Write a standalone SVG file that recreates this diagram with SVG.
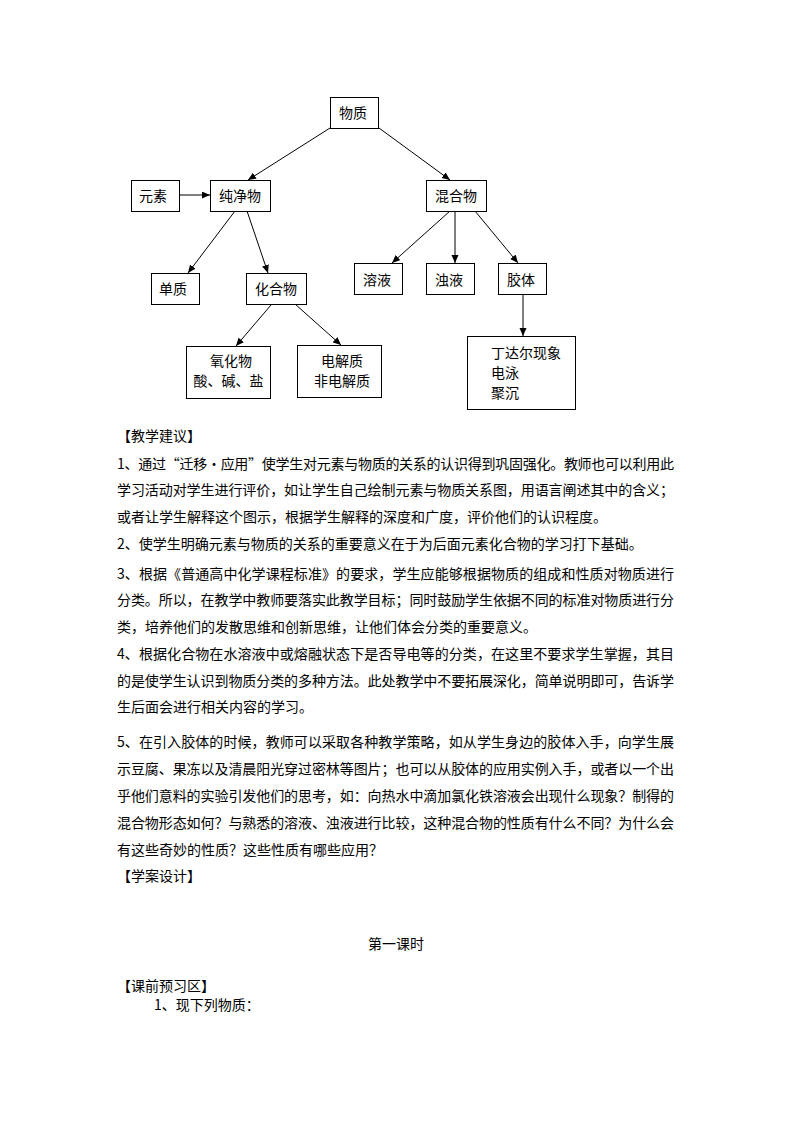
<svg xmlns="http://www.w3.org/2000/svg" width="794" height="1123" viewBox="0 0 794 1123">
<defs>
<style>
.box{fill:#fff;stroke:#000;stroke-width:1}
.nt{font-family:"Noto Sans CJK SC","Noto Sans",sans-serif;font-size:14px;fill:#000}
.bt{font-family:"Noto Sans CJK SC","Noto Sans",sans-serif;font-size:14px;fill:#000}
.ln{stroke:#000;stroke-width:1;fill:none;marker-end:url(#ah)}
</style>
<marker id="ah" markerUnits="userSpaceOnUse" markerWidth="9" markerHeight="8" refX="8" refY="3.5" orient="auto">
<path d="M0,0 L8,3.5 L0,7 z" fill="#000"/>
</marker>
</defs>
<rect width="794" height="1123" fill="#fff"/>

<g id="connectors">
<line class="ln" x1="330" y1="128" x2="248" y2="180"/>
<line class="ln" x1="379" y1="128" x2="450" y2="180"/>
<line class="ln" x1="179" y1="195" x2="210" y2="195"/>
<line class="ln" x1="235" y1="211" x2="188" y2="273"/>
<line class="ln" x1="247" y1="211" x2="268" y2="273"/>
<line class="ln" x1="450" y1="211" x2="392" y2="263"/>
<line class="ln" x1="455" y1="211" x2="455" y2="263"/>
<line class="ln" x1="475" y1="211" x2="518" y2="263"/>
<line class="ln" x1="271" y1="305" x2="236" y2="346"/>
<line class="ln" x1="295" y1="304" x2="341" y2="345"/>
<line class="ln" x1="523" y1="294" x2="523" y2="336"/>
</g>

<g id="n-wuzhi"><rect class="box" x="330.5" y="97.5" width="48" height="31"/><text class="nt" x="339" y="118">物质</text></g>
<g id="n-yuansu"><rect class="box" x="131.5" y="180.5" width="48" height="31"/><text class="nt" x="139" y="201">元素</text></g>
<g id="n-chunjingwu"><rect class="box" x="210.5" y="180.5" width="60" height="31"/><text class="nt" x="219" y="201">纯净物</text></g>
<g id="n-hunhewu"><rect class="box" x="426.5" y="180.5" width="60" height="31"/><text class="nt" x="435" y="201">混合物</text></g>
<g id="n-danzhi"><rect class="box" x="151.5" y="273.5" width="48" height="31"/><text class="nt" x="159" y="294">单质</text></g>
<g id="n-huahewu"><rect class="box" x="246.5" y="273.5" width="60" height="31"/><text class="nt" x="255" y="294">化合物</text></g>
<g id="n-rongye"><rect class="box" x="354.5" y="263.5" width="48" height="31"/><text class="nt" x="363" y="285">溶液</text></g>
<g id="n-zhuoye"><rect class="box" x="426.5" y="263.5" width="48" height="31"/><text class="nt" x="435" y="285">浊液</text></g>
<g id="n-jiaoti"><rect class="box" x="498.5" y="263.5" width="48" height="31"/><text class="nt" x="507" y="285">胶体</text></g>
<g id="n-yanghuawu"><rect class="box" x="186.5" y="346.5" width="84" height="52"/><text class="nt" x="231" y="366" text-anchor="middle">氧化物</text><text class="nt" x="228.5" y="386" text-anchor="middle">酸、碱、盐</text></g>
<g id="n-dianjiezhi"><rect class="box" x="297.5" y="345.5" width="84" height="52"/><text class="nt" x="342" y="366" text-anchor="middle">电解质</text><text class="nt" x="342" y="386" text-anchor="middle">非电解质</text></g>
<g id="n-dingdaer"><rect class="box" x="467.5" y="336.5" width="108" height="73"/><text class="nt" x="491" y="358">丁达尔现象</text><text class="nt" x="491" y="378">电泳</text><text class="nt" x="491" y="398">聚沉</text></g>

<g id="body-text">
<text class="bt" x="117" y="441">【教学建议】</text>
<text class="bt" x="117" y="469" textLength="557" lengthAdjust="spacing">1、通过“迁移•应用”使学生对元素与物质的关系的认识得到巩固强化。教师也可以利用此</text>
<text class="bt" x="117" y="495" textLength="557" lengthAdjust="spacing">学习活动对学生进行评价，如让学生自己绘制元素与物质关系图，用语言阐述其中的含义；</text>
<text class="bt" x="117" y="522">或者让学生解释这个图示，根据学生解释的深度和广度，评价他们的认识程度。</text>
<text class="bt" x="117" y="549">2、使学生明确元素与物质的关系的重要意义在于为后面元素化合物的学习打下基础。</text>
<text class="bt" x="117" y="579" textLength="557" lengthAdjust="spacing">3、根据《普通高中化学课程标准》的要求，学生应能够根据物质的组成和性质对物质进行</text>
<text class="bt" x="117" y="605" textLength="557" lengthAdjust="spacing">分类。所以，在教学中教师要落实此教学目标；同时鼓励学生依据不同的标准对物质进行分</text>
<text class="bt" x="117" y="632">类，培养他们的发散思维和创新思维，让他们体会分类的重要意义。</text>
<text class="bt" x="117" y="659" textLength="557" lengthAdjust="spacing">4、根据化合物在水溶液中或熔融状态下是否导电等的分类，在这里不要求学生掌握，其目</text>
<text class="bt" x="117" y="686" textLength="557" lengthAdjust="spacing">的是使学生认识到物质分类的多种方法。此处教学中不要拓展深化，简单说明即可，告诉学</text>
<text class="bt" x="117" y="712">生后面会进行相关内容的学习。</text>
<text class="bt" x="117" y="747" textLength="557" lengthAdjust="spacing">5、在引入胶体的时候，教师可以采取各种教学策略，如从学生身边的胶体入手，向学生展</text>
<text class="bt" x="117" y="774" textLength="557" lengthAdjust="spacing">示豆腐、果冻以及清晨阳光穿过密林等图片；也可以从胶体的应用实例入手，或者以一个出</text>
<text class="bt" x="117" y="801" textLength="557" lengthAdjust="spacing">乎他们意料的实验引发他们的思考，如：向热水中滴加氯化铁溶液会出现什么现象？制得的</text>
<text class="bt" x="117" y="828" textLength="557" lengthAdjust="spacing">混合物形态如何？与熟悉的溶液、浊液进行比较，这种混合物的性质有什么不同？为什么会</text>
<text class="bt" x="117" y="855">有这些奇妙的性质？这些性质有哪些应用？</text>
<text class="bt" x="117" y="881">【学案设计】</text>
<text class="bt" x="396" y="949" text-anchor="middle">第一课时</text>
<text class="bt" x="117" y="991">【课前预习区】</text>
<text class="bt" x="154" y="1010">1、现下列物质：</text>
</g>
</svg>
